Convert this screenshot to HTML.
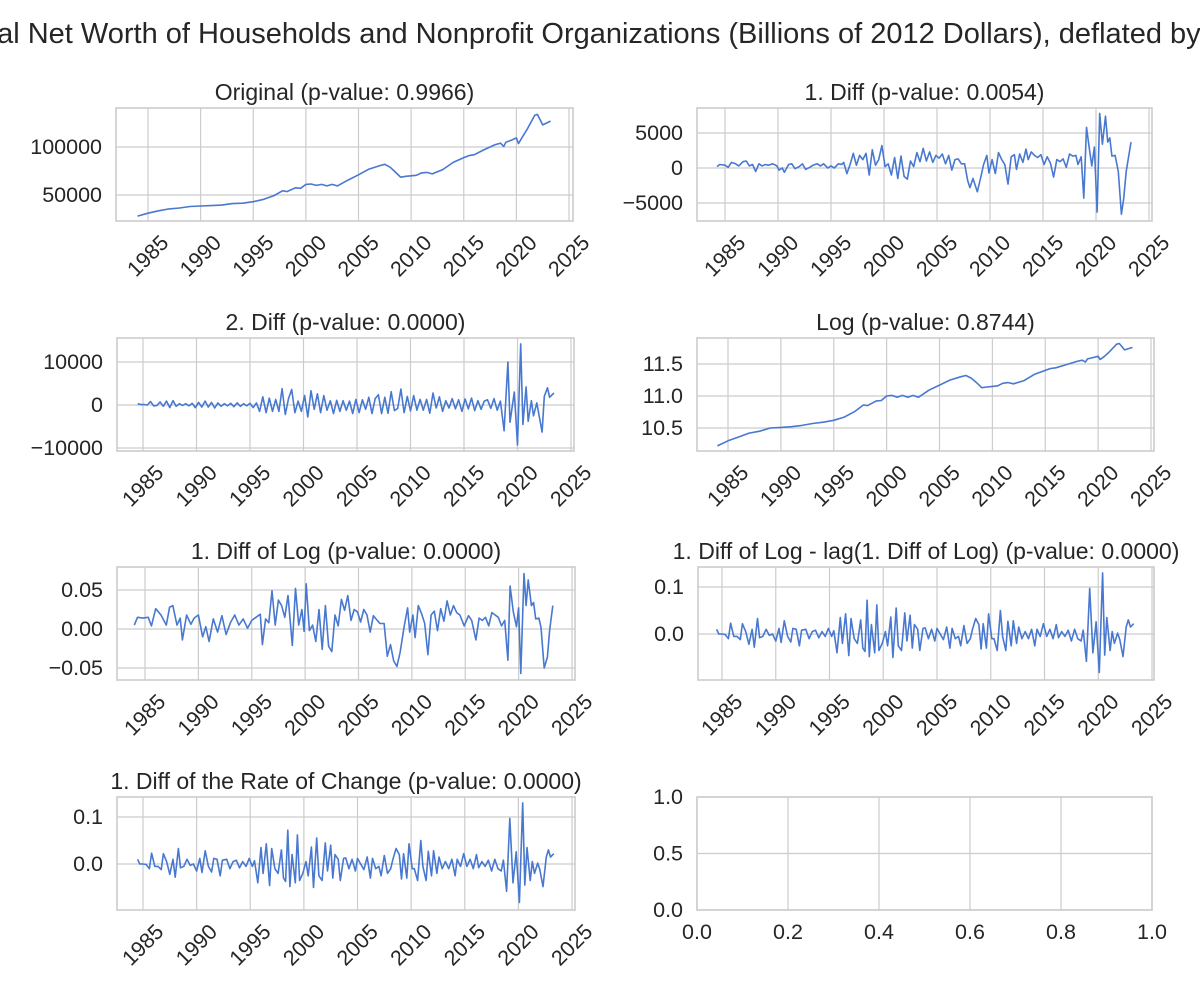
<!DOCTYPE html>
<html><head><meta charset="utf-8"><style>
html,body{margin:0;padding:0;background:#fff;overflow:hidden;}
svg{display:block;font-family:"Liberation Sans",Arial,sans-serif;}
</style></head><body>
<svg id="fig" width="1200" height="1000" viewBox="0 0 1200 1000">
<text x="-40" y="43" font-size="29" fill="#262626">Real Net Worth of Households and Nonprofit Organizations (Billions of 2012 Dollars), deflated by CPI</text>
</svg>
<script>
const yearTicks = [1985,1990,1995,2000,2005,2010,2015,2020,2025];

const origDates = [1984,1985,1986,1987,1988,1989,1990,1991,1992,1993,1994,1995,1996,1997,1997.8,1998.2,1999,1999.5,2000,2000.5,2001,2001.5,2002,2002.5,2003,2004,2005,2006,2007,2007.5,2008,2008.5,2009,2009.5,2010,2010.5,2011,2011.5,2012,2013,2014,2015,2015.5,2016,2017,2018,2018.5,2018.8,2019,2019.5,2020,2020.2,2020.6,2021,2021.75,2022,2022.5,2023.25];
const origValues = [28000,31000,33500,35500,36500,38000,38500,39000,39500,41000,41500,43000,45500,49500,54500,53500,57500,57000,61000,61500,60000,61000,59500,61000,59500,65500,71000,77000,80500,82000,79000,74000,68500,69500,70000,70500,73000,73500,72000,76500,84000,89000,91000,92000,97500,102500,104000,100500,105000,107000,109500,103500,111000,118000,133000,134000,123000,127000];
const origTicks = [50000,100000];

const diff1Dates = [1984.25,1984.5,1985,1985.3,1985.6,1986,1986.3,1986.7,1987,1987.3,1987.6,1987.9,1988.2,1988.5,1988.8,1989.1,1989.5,1989.9,1990.1,1990.4,1990.6,1991,1991.3,1991.6,1992,1992.3,1992.6,1993,1993.3,1993.7,1994,1994.3,1994.7,1995,1995.3,1995.7,1996,1996.2,1996.5,1996.8,1997.1,1997.4,1997.7,1998,1998.3,1998.6,1998.9,1999.2,1999.5,1999.8,2000.1,2000.4,2000.7,2001,2001.3,2001.6,2001.9,2002.2,2002.5,2002.8,2003.1,2003.4,2003.7,2004,2004.3,2004.6,2004.9,2005.2,2005.5,2005.8,2006.1,2006.4,2006.7,2007,2007.3,2007.6,2007.9,2008.1,2008.4,2008.8,2009.1,2009.4,2009.7,2009.9,2010.2,2010.5,2010.8,2011.1,2011.4,2011.7,2012,2012.3,2012.5,2012.8,2013.1,2013.4,2013.6,2013.9,2014.2,2014.5,2014.8,2015.1,2015.4,2015.7,2016,2016.3,2016.6,2016.9,2017.2,2017.5,2017.8,2018.1,2018.3,2018.6,2018.85,2019.1,2019.4,2019.6,2019.85,2020.1,2020.35,2020.6,2020.9,2021.1,2021.3,2021.5,2021.8,2022.1,2022.4,2022.6,2022.85,2023.3];
const diff1Values = [200,500,400,100,800,600,300,900,1000,300,500,-500,600,300,500,400,600,300,-300,0,-600,500,600,-100,200,600,-200,100,400,600,300,600,0,300,0,600,500,800,-800,500,2100,400,1800,1200,2100,-1000,2600,400,1200,3200,200,600,-1000,1500,-1500,1700,-1200,-1600,1000,200,2200,900,2800,1000,2300,800,1800,1400,2000,600,1800,-300,1200,1300,600,600,-1800,-2800,-1500,-3400,-1500,500,1800,-700,1200,-800,2200,1200,500,-2300,1600,1900,-200,2000,800,2700,1200,2300,1800,1500,1900,500,1600,700,-1300,1200,900,1300,100,2000,1700,1800,500,1600,-4300,5800,2500,300,3000,-6300,7800,3400,7400,3700,4300,1700,1800,-500,-6600,-4500,-500,3700];
const diff1Ticks = [-5000,0,5000];

const diff2Dates = [1984.5,1984.8,1985.1,1985.4,1985.7,1986,1986.3,1986.6,1986.9,1987.2,1987.5,1987.8,1988.1,1988.4,1988.7,1989,1989.3,1989.6,1989.9,1990.2,1990.5,1990.8,1991.1,1991.4,1991.7,1992,1992.3,1992.6,1992.9,1993.2,1993.5,1993.8,1994.1,1994.4,1994.7,1995,1995.3,1995.6,1995.9,1996.2,1996.5,1996.8,1997.1,1997.4,1997.7,1998,1998.3,1998.6,1998.9,1999.2,1999.5,1999.8,2000.1,2000.4,2000.7,2001,2001.3,2001.6,2001.9,2002.2,2002.5,2002.8,2003.1,2003.4,2003.7,2004,2004.3,2004.6,2004.9,2005.2,2005.5,2005.8,2006.1,2006.4,2006.7,2007,2007.3,2007.6,2007.9,2008.2,2008.5,2008.8,2009.1,2009.4,2009.7,2010,2010.3,2010.6,2010.9,2011.2,2011.5,2011.8,2012.1,2012.4,2012.7,2013,2013.3,2013.6,2013.9,2014.2,2014.5,2014.8,2015.1,2015.4,2015.7,2016,2016.3,2016.6,2016.9,2017.2,2017.5,2017.8,2018.1,2018.4,2018.75,2019.1,2019.3,2019.7,2020,2020.3,2020.5,2020.8,2021,2021.3,2021.5,2021.8,2022.3,2022.5,2022.8,2023,2023.4];
const diff2Values = [300,100,100,0,800,-200,-100,700,-300,900,-600,1000,-300,300,-100,300,-200,400,-600,600,-500,900,-500,600,-700,500,-300,300,-200,400,-400,500,-300,300,-200,400,-600,500,-1500,1900,-1800,1600,-1500,1300,-1500,3800,-2200,1500,3600,-1800,900,-1500,2200,-2800,3300,-1000,2600,-1800,2200,-1200,1000,-2000,1100,-1500,1000,-1200,900,-2000,1300,-1800,1200,-1000,1800,-2000,1500,2400,-2000,1800,-1900,3100,-1300,-800,3700,-1800,2000,-1400,2200,-1200,1300,-1200,1300,-1900,2800,-700,1900,-1500,1000,-700,1500,-900,1200,-1500,1400,-900,1600,-1300,1000,-1000,900,1200,-800,1500,-1200,900,-6000,10000,-4000,3000,-9300,14200,-4500,4200,-3800,1000,-2500,500,-6300,2000,4000,1800,2800];
const diff2Ticks = [-10000,0,10000];

const logDates = [1984,1985,1986,1987,1988,1989,1990,1991,1992,1993,1994,1995,1996,1997,1997.8,1998.2,1999,1999.5,2000,2000.5,2001,2001.5,2002,2002.5,2003,2004,2005,2006,2007,2007.5,2008,2008.5,2009,2009.5,2010,2010.5,2011,2011.5,2012,2013,2014,2015,2015.5,2016,2017,2018,2018.5,2018.8,2019,2019.5,2020,2020.2,2020.6,2021,2021.75,2022,2022.5,2023.25];
const logValues = [10.22,10.30,10.36,10.42,10.45,10.50,10.51,10.52,10.54,10.57,10.59,10.62,10.67,10.76,10.86,10.85,10.92,10.93,11.00,11.01,10.98,11.01,10.98,11.01,10.98,11.09,11.17,11.25,11.30,11.32,11.28,11.21,11.13,11.14,11.15,11.16,11.20,11.21,11.19,11.24,11.34,11.40,11.43,11.44,11.49,11.54,11.56,11.53,11.58,11.60,11.62,11.57,11.62,11.68,11.81,11.82,11.72,11.76];
const logTicks = [10.5,11.0,11.5];

const dlogDates = [1984,1984.3,1984.8,1985.3,1985.6,1986,1986.5,1987,1987.3,1987.6,1988,1988.3,1988.5,1988.9,1989.3,1989.6,1990,1990.4,1990.7,1991,1991.4,1991.8,1992.2,1992.6,1993,1993.4,1993.8,1994.2,1994.6,1995,1995.4,1995.8,1996,1996.3,1996.6,1996.9,1997.2,1997.5,1997.8,1998.1,1998.4,1998.8,1999.1,1999.4,1999.7,1999.9,2000.1,2000.4,2000.7,2001,2001.3,2001.6,2001.9,2002.2,2002.5,2002.8,2003.1,2003.4,2003.7,2004,2004.3,2004.6,2004.9,2005.2,2005.5,2005.8,2006.1,2006.4,2006.7,2007,2007.4,2007.7,2008,2008.3,2008.6,2008.9,2009.3,2009.6,2009.8,2010.1,2010.3,2010.6,2010.9,2011.2,2011.5,2011.8,2012.1,2012.4,2012.7,2013,2013.3,2013.6,2013.9,2014.2,2014.5,2014.9,2015.3,2015.6,2016,2016.3,2016.6,2016.9,2017.2,2017.5,2017.8,2018.1,2018.4,2018.7,2019,2019.2,2019.5,2019.8,2020,2020.2,2020.5,2020.7,2020.9,2021.2,2021.4,2021.6,2021.9,2022.1,2022.4,2022.7,2022.9,2023.2];
const dlogValues = [0.005,0.015,0.014,0.015,0.004,0.026,0.018,0.005,0.028,0.030,0.005,0.014,-0.014,0.018,0.006,0.014,0.018,-0.010,0.003,-0.016,0.013,-0.004,0.017,-0.007,0.008,0.018,0.005,0.013,0.001,0.011,0.015,0.019,-0.020,0.013,0.008,0.049,0.005,0.037,0.030,0.015,0.043,-0.021,0.052,0.005,0.025,-0.003,0.058,-0.002,0.005,-0.016,0.025,-0.026,0.030,-0.022,-0.029,0.018,0.004,0.038,0.024,0.043,0.011,0.025,0.022,0.009,0.025,0.018,-0.004,0.017,0.012,0.007,0.007,-0.035,-0.020,-0.041,-0.048,-0.030,0.005,0.027,-0.004,0.018,-0.011,0.030,0.020,0.007,-0.033,0.018,0.023,-0.002,0.026,0.010,0.036,0.018,0.030,0.021,0.018,0.004,0.017,0.011,-0.014,0.014,0.011,0.015,0.004,0.021,0.018,0.015,0.004,0.011,-0.040,0.055,0.022,0.003,0.027,-0.057,0.071,0.030,0.063,0.030,0.034,0.013,0.014,0.002,-0.050,-0.036,-0.002,0.030];
const dlogTicks = [-0.05,0.00,0.05];

const ddlogDates = [1984.5,1984.7,1985,1985.3,1985.6,1985.8,1986.1,1986.4,1986.7,1986.9,1987.2,1987.5,1987.8,1988,1988.3,1988.5,1988.8,1989.1,1989.4,1989.7,1990,1990.3,1990.5,1990.8,1991.1,1991.4,1991.6,1991.9,1992.2,1992.4,1992.8,1993.1,1993.4,1993.7,1994,1994.3,1994.6,1994.9,1995.2,1995.4,1995.7,1996,1996.2,1996.5,1996.8,1997,1997.3,1997.6,1997.9,1998.1,1998.3,1998.5,1998.7,1998.9,1999.2,1999.4,1999.6,1999.9,2000.2,2000.4,2000.7,2000.9,2001.2,2001.4,2001.7,2002,2002.2,2002.5,2002.7,2002.9,2003.2,2003.4,2003.7,2003.9,2004.2,2004.5,2004.8,2005,2005.3,2005.6,2005.9,2006.2,2006.4,2006.7,2007,2007.2,2007.5,2007.8,2008.1,2008.3,2008.6,2008.9,2009.1,2009.3,2009.6,2009.8,2010.1,2010.3,2010.6,2010.9,2011.1,2011.4,2011.6,2011.9,2012.1,2012.4,2012.6,2012.9,2013.2,2013.5,2013.8,2014.1,2014.3,2014.6,2014.9,2015.2,2015.5,2015.8,2016.1,2016.3,2016.6,2016.9,2017.2,2017.5,2017.8,2018.1,2018.4,2018.6,2018.9,2019.2,2019.5,2019.8,2020.1,2020.4,2020.6,2020.8,2021.1,2021.3,2021.5,2021.8,2022,2022.3,2022.6,2022.8,2023,2023.3];
const ddlogValues = [0.010,0.000,0.000,-0.001,-0.010,0.023,-0.005,-0.005,-0.012,0.022,0.005,-0.022,0.010,-0.028,0.033,-0.008,-0.005,0.010,-0.003,0.000,-0.015,0.012,-0.018,0.028,-0.005,-0.017,0.012,0.010,-0.025,0.008,0.010,-0.010,0.005,0.008,-0.008,0.005,-0.005,0.012,-0.005,0.007,-0.040,0.035,-0.020,0.043,-0.046,0.033,-0.010,-0.020,0.030,-0.030,-0.037,0.072,-0.048,0.020,-0.040,0.062,-0.035,-0.020,0.005,-0.025,0.036,-0.050,0.055,-0.025,-0.035,0.045,-0.015,0.040,-0.030,0.020,0.010,-0.035,0.012,0.013,-0.010,0.010,-0.015,0.012,0.000,-0.012,0.015,-0.030,0.012,-0.010,-0.005,-0.025,0.018,-0.020,-0.010,0.010,0.033,0.020,-0.032,0.022,-0.030,0.043,-0.010,-0.010,-0.035,0.050,-0.005,-0.035,0.027,-0.025,0.028,-0.020,0.015,-0.010,0.005,-0.010,0.010,-0.025,0.010,-0.005,0.022,-0.005,0.010,-0.010,0.020,-0.008,0.005,-0.005,0.008,-0.015,0.010,-0.010,-0.015,0.008,-0.058,0.097,-0.040,0.026,-0.082,0.130,-0.045,0.035,-0.035,0.005,-0.020,0.002,-0.012,-0.048,0.015,0.030,0.015,0.022];
const ddlogTicks = [0.0,0.1];

const rocDates = ddlogDates.slice();
const rocValues = ddlogValues.slice();
const rocTicks = [0.0,0.1];

const emptyXTicks = [0.0,0.2,0.4,0.6,0.8,1.0];
const emptyYTicks = [0.0,0.5,1.0];

const NS = 'http://www.w3.org/2000/svg';
const fig = document.getElementById('fig');
function mk(tag, attrs, parent) {
  const e = document.createElementNS(NS, tag);
  for (const k in attrs) e.setAttribute(k, attrs[k]);
  (parent || fig).appendChild(e);
  return e;
}
function scale(d0, d1, p0, p1) { return v => p0 + (v - d0) * (p1 - p0) / (d1 - d0); }

function panel(cfg) {
  const g = mk('g', {});
  
  
  const xs = scale(cfg.xr[0], cfg.xr[1], cfg.xp[0], cfg.xp[1]);
  const ys = scale(cfg.yr[0], cfg.yr[1], cfg.yp[0], cfg.yp[1]);
  cfg.xt.forEach(t => {
    const x = xs(t);
    const l = mk('line', {x1:x, x2:x, y1:cfg.T, y2:cfg.B, stroke:'#cccccc', 'stroke-width':1.2}, g);
    
    
    const ty = cfg.B + (cfg.rot ? 35 : 22);
    const tx = mk('text', {x:x, y:ty, 'font-size':21.5, fill:'#262626', 'text-anchor':'middle', 'dominant-baseline':'central'}, g);
    if (cfg.rot) tx.setAttribute('transform', 'rotate(-45 ' + x + ' ' + ty + ')');
    tx.textContent = cfg.xfmt ? cfg.xfmt(t) : String(t);
    
    
  });
  cfg.yt.forEach(t => {
    const y = ys(t);
    const l = mk('line', {x1:cfg.L, x2:cfg.R, y1:y, y2:y, stroke:'#cccccc', 'stroke-width':1.2}, g);
    
    
    const tx = mk('text', {x:cfg.L - 14, y:y, 'font-size':21.5, fill:'#262626', 'text-anchor':'end', 'dominant-baseline':'central'}, g);
    tx.textContent = cfg.yfmt(t);
    
    
  });
  const frame = mk('rect', {x:cfg.L, y:cfg.T, width:cfg.R - cfg.L, height:cfg.B - cfg.T, fill:'none', stroke:'#cccccc', 'stroke-width':1.6}, g);
  
  
  if (cfg.title) {
    const ti = mk('text', {x:(cfg.L + cfg.R) / 2, y:cfg.T - 8, 'font-size':23, fill:'#262626', 'text-anchor':'middle'}, g);
    ti.textContent = cfg.title;
    
    
  }
  if (cfg.dates) {
    const pts = cfg.dates.map((d, i) => xs(d).toFixed(1) + ',' + ys(cfg.vals[i]).toFixed(1)).join(' ');
    const pl = mk('polyline', {points:pts, fill:'none', stroke:'#4878d0', 'stroke-width':1.6, 'stroke-linejoin':'round'}, g);
    
    
  }
}
const intFmt = v => (v < 0 ? '\u2212' : '') + Math.abs(v);
const f1 = v => (v < 0 ? '\u2212' : '') + Math.abs(v).toFixed(1);
const f2 = v => (v < 0 ? '\u2212' : '') + Math.abs(v).toFixed(2);

panel({name:'original-panel', title:'Original (p-value: 0.9966)', L:116, R:573, T:108, B:221,
  xr:[1985,2025], xp:[148,569], yr:[50000,100000], yp:[195,147], xt:yearTicks, yt:origTicks, yfmt:intFmt, rot:true,
  dates:origDates, vals:origValues});
panel({name:'diff1-panel', title:'1. Diff (p-value: 0.0054)', L:697, R:1152, T:108, B:221,
  xr:[1985,2025], xp:[725,1149], yr:[0,5000], yp:[168,133], xt:yearTicks, yt:diff1Ticks, yfmt:intFmt, rot:true,
  dates:diff1Dates, vals:diff1Values});
panel({name:'diff2-panel', title:'2. Diff (p-value: 0.0000)', L:117, R:574, T:338, B:451,
  xr:[1985,2025], xp:[143,571], yr:[0,10000], yp:[405,362], xt:yearTicks, yt:diff2Ticks, yfmt:intFmt, rot:true,
  dates:diff2Dates, vals:diff2Values});
panel({name:'log-panel', title:'Log (p-value: 0.8744)', L:697, R:1154, T:338, B:451,
  xr:[1985,2025], xp:[728,1151], yr:[10.5,11.5], yp:[428,364], xt:yearTicks, yt:logTicks, yfmt:f1, rot:true,
  dates:logDates, vals:logValues});
panel({name:'diff-log-panel', title:'1. Diff of Log (p-value: 0.0000)', L:117, R:575, T:567, B:680,
  xr:[1985,2025], xp:[145,572], yr:[0,0.05], yp:[629,590], xt:yearTicks, yt:dlogTicks, yfmt:f2, rot:true,
  dates:dlogDates, vals:dlogValues});
panel({name:'diff-log-lag-panel', title:'1. Diff of Log - lag(1. Diff of Log) (p-value: 0.0000)', L:698, R:1154, T:567, B:680,
  xr:[1985,2025], xp:[722,1152], yr:[0,0.1], yp:[634,587], xt:yearTicks, yt:ddlogTicks, yfmt:f1, rot:true,
  dates:ddlogDates, vals:ddlogValues});
panel({name:'rate-of-change-panel', title:'1. Diff of the Rate of Change (p-value: 0.0000)', L:117, R:575, T:797, B:910,
  xr:[1985,2025], xp:[143,572], yr:[0,0.1], yp:[864,817], xt:yearTicks, yt:rocTicks, yfmt:f1, rot:true,
  dates:rocDates, vals:rocValues});
panel({name:'empty-panel', title:'', L:697, R:1152, T:797, B:910,
  xr:[0,1], xp:[697,1152], yr:[0,1], yp:[910,797], xt:emptyXTicks, yt:emptyYTicks, yfmt:f1, xfmt:f1, rot:false});
</script>
</body></html>
